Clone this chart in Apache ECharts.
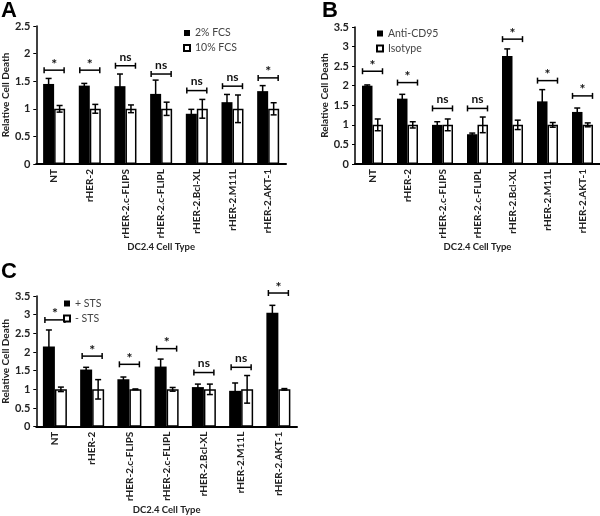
<!DOCTYPE html>
<html>
<head>
<meta charset="utf-8">
<script src="https://cdn.jsdelivr.net/npm/echarts@6/dist/echarts.min.js"></script>
<style>
  html, body { margin: 0; padding: 0; background: #fff; }
  #main { width: 600px; height: 516px; }
</style>
</head>
<body>
<div id="main"></div>
<script type="text/javascript">
// categories (same for all three panels)
var cellTypes = ['NT', 'rHER-2', 'rHER-2.c-FLIPS', 'rHER-2.c-FLIPL', 'rHER-2.Bcl-XL', 'rHER-2.M11L', 'rHER-2.AKT-1'];

// panel A
var fcs2 = [1.45, 1.42, 1.41, 1.27, 0.91, 1.12, 1.32];
var fcs2Err = [0.10, 0.04, 0.22, 0.25, 0.08, 0.14, 0.10];
var fcs10 = [1, 1, 1, 1, 1, 1, 1];
var fcs10Err = [0.06, 0.08, 0.07, 0.12, 0.17, 0.25, 0.11];
var sigA = [1.70, 1.70, 1.78, 1.63, 1.33, 1.41, 1.56];
var sigALabel = ['*', '*', 'ns', 'ns', 'ns', 'ns', '*'];

// panel B
var antiCD95 = [2.00, 1.67, 1.00, 0.76, 2.76, 1.60, 1.33];
var antiCD95Err = [0.02, 0.11, 0.08, 0.03, 0.18, 0.30, 0.10];
var isotype = [1, 1, 1, 1, 1, 1, 1];
var isotypeErr = [0.15, 0.08, 0.15, 0.20, 0.12, 0.06, 0.05];
var sigB = [2.37, 2.08, 1.42, 1.42, 3.19, 2.13, 1.74];
var sigBLabel = ['*', '*', 'ns', 'ns', '*', '*', '*'];

// panel C
var stsPlus = [2.15, 1.53, 1.27, 1.61, 1.06, 0.96, 3.05];
var stsPlusErr = [0.44, 0.06, 0.06, 0.20, 0.08, 0.21, 0.20];
var stsMinus = [1, 1, 1, 1, 1, 1, 1];
var stsMinusErr = [0.06, 0.26, 0.01, 0.05, 0.14, 0.37, 0.02];
var sigC = [2.86, 1.89, 1.67, 2.09, 1.45, 1.59, 3.58];
var sigCLabel = ['*', '*', '*', '*', 'ns', 'ns', '*'];

var FONT = 'Lato, "DejaVu Sans", sans-serif';

function errorRender(offset) {
    return function (params, api) {
        var i = api.value(0), m = api.value(1), e = api.value(2);
        var top = api.coord([i, m + e]);
        var bot = api.coord([i, m - e]);
        var x = top[0] + offset;
        var st = { stroke: '#000', lineWidth: 1.5 };
        return {
            type: 'group',
            children: [
                { type: 'line', shape: { x1: x, y1: top[1], x2: x, y2: bot[1] }, style: st },
                { type: 'line', shape: { x1: x - 3, y1: top[1], x2: x + 3, y2: top[1] }, style: st },
                { type: 'line', shape: { x1: x - 3, y1: bot[1], x2: x + 3, y2: bot[1] }, style: st }
            ]
        };
    };
}

function sigRender(labels) {
    return function (params, api) {
        var p = api.coord([api.value(0), api.value(1)]);
        var st = { stroke: '#000', lineWidth: 1.5 };
        var lbl = labels[params.dataIndex];
        var star = lbl === '*';
        return {
            type: 'group',
            children: [
                { type: 'line', shape: { x1: p[0] - 10, y1: p[1], x2: p[0] + 10, y2: p[1] }, style: st },
                { type: 'line', shape: { x1: p[0] - 10, y1: p[1] - 3, x2: p[0] - 10, y2: p[1] + 3 }, style: st },
                { type: 'line', shape: { x1: p[0] + 10, y1: p[1] - 3, x2: p[0] + 10, y2: p[1] + 3 }, style: st },
                { type: 'text', x: p[0], y: star ? p[1] + 1 : p[1] - 3,
                  style: { text: lbl, fill: '#111', font: 'bold ' + (star ? 14 : 12) + 'px ' + FONT, align: 'center', verticalAlign: 'bottom' } }
            ]
        };
    };
}

function triples(mean, err) {
    return mean.map(function (v, i) { return [i, v, err[i]]; });
}

var grids = [
    { left: 33, top: 26, width: 253, height: 138 },
    { left: 355, top: 27, width: 246, height: 137 },
    { left: 33, top: 296, width: 264, height: 138 }
];
var yMax = [2.5, 3.5, 3.5];
var yNameGap = [16, 24, 16];
var xNameGap = [72, 72, 70];
var barW = [11, 10.5, 12];

var panels = [
    { names: ['2% FCS', '10% FCS'], a: fcs2, aErr: fcs2Err, b: fcs10, bErr: fcs10Err, sig: sigA, sigLabel: sigALabel },
    { names: ['Anti-CD95', 'Isotype'], a: antiCD95, aErr: antiCD95Err, b: isotype, bErr: isotypeErr, sig: sigB, sigLabel: sigBLabel },
    { names: ['+ STS', '- STS'], a: stsPlus, aErr: stsPlusErr, b: stsMinus, bErr: stsMinusErr, sig: sigC, sigLabel: sigCLabel }
];

var xAxes = [], yAxes = [], series = [];
panels.forEach(function (p, g) {
    xAxes.push({
        type: 'category', gridIndex: g, data: cellTypes,
        name: 'DC2.4 Cell Type', nameLocation: 'middle', nameGap: xNameGap[g],
        nameTextStyle: { fontFamily: FONT, fontWeight: 'bold', fontSize: 9.5, color: '#222' },
        axisLine: { lineStyle: { color: '#000', width: 2 } },
        axisTick: { show: false },
        axisLabel: { rotate: 90, interval: 0, margin: 5, fontFamily: FONT, fontWeight: 'bold', fontSize: 10, color: '#222' }
    });
    yAxes.push({
        type: 'value', gridIndex: g, min: 0, max: yMax[g], interval: 0.5,
        name: 'Relative Cell Death', nameLocation: 'middle', nameGap: yNameGap[g],
        nameTextStyle: { fontFamily: FONT, fontWeight: 'bold', fontSize: 10, color: '#222' },
        axisLine: { show: true, lineStyle: { color: '#000', width: 1.5 } },
        axisTick: { show: true, length: 3, lineStyle: { color: '#000' } },
        splitLine: { show: false },
        axisLabel: { margin: 6, fontFamily: FONT, fontWeight: 'bold', fontSize: 11, color: '#222' }
    });
    series.push({
        name: p.names[0], type: 'bar', xAxisIndex: g, yAxisIndex: g,
        barWidth: barW[g], barGap: '0%', data: p.a,
        itemStyle: { color: '#000' }
    });
    series.push({
        name: p.names[1], type: 'bar', xAxisIndex: g, yAxisIndex: g,
        barWidth: barW[g], barGap: '0%', data: p.b,
        itemStyle: { color: '#fff', borderColor: '#000', borderWidth: 1.5 }
    });
    series.push({
        type: 'custom', xAxisIndex: g, yAxisIndex: g, z: 3, clip: false,
        renderItem: errorRender(-barW[g] / 2), data: triples(p.a, p.aErr), encode: { x: 0, y: 1 }
    });
    series.push({
        type: 'custom', xAxisIndex: g, yAxisIndex: g, z: 3, clip: false,
        renderItem: errorRender(barW[g] / 2), data: triples(p.b, p.bErr), encode: { x: 0, y: 1 }
    });
    series.push({
        type: 'custom', xAxisIndex: g, yAxisIndex: g, z: 3, clip: false,
        renderItem: sigRender(p.sigLabel),
        data: p.sig.map(function (v, i) { return [i, v]; }), encode: { x: 0, y: 1 }
    });
});

var legendPos = [[183, 27.5], [376, 28], [63, 298]];
var legends = panels.map(function (p, g) {
    return {
        data: p.names, orient: 'vertical', left: legendPos[g][0], top: legendPos[g][1],
        padding: 0, itemGap: 4, itemWidth: 6, itemHeight: 6, icon: 'rect',
        selectedMode: false,
        textStyle: { fontFamily: FONT, fontSize: 10.5, color: '#444' }
    };
});

var letterStyle = { font: 'bold 22px "Liberation Sans", Arial, sans-serif', fill: '#000' };
var myChart = echarts.init(document.getElementById('main'), null, { renderer: 'canvas' });
var option = {
    animation: false,
    backgroundColor: '#fff',
    grid: grids,
    xAxis: xAxes,
    yAxis: yAxes,
    legend: legends,
    graphic: [
        { type: 'text', left: 1, top: 0, style: Object.assign({ text: 'A' }, letterStyle) },
        { type: 'text', left: 322, top: 0, style: Object.assign({ text: 'B' }, letterStyle) },
        { type: 'text', left: 1, top: 261, style: Object.assign({ text: 'C' }, letterStyle) }
    ],
    series: series
};
myChart.setOption(option);
</script>
</body>
</html>
